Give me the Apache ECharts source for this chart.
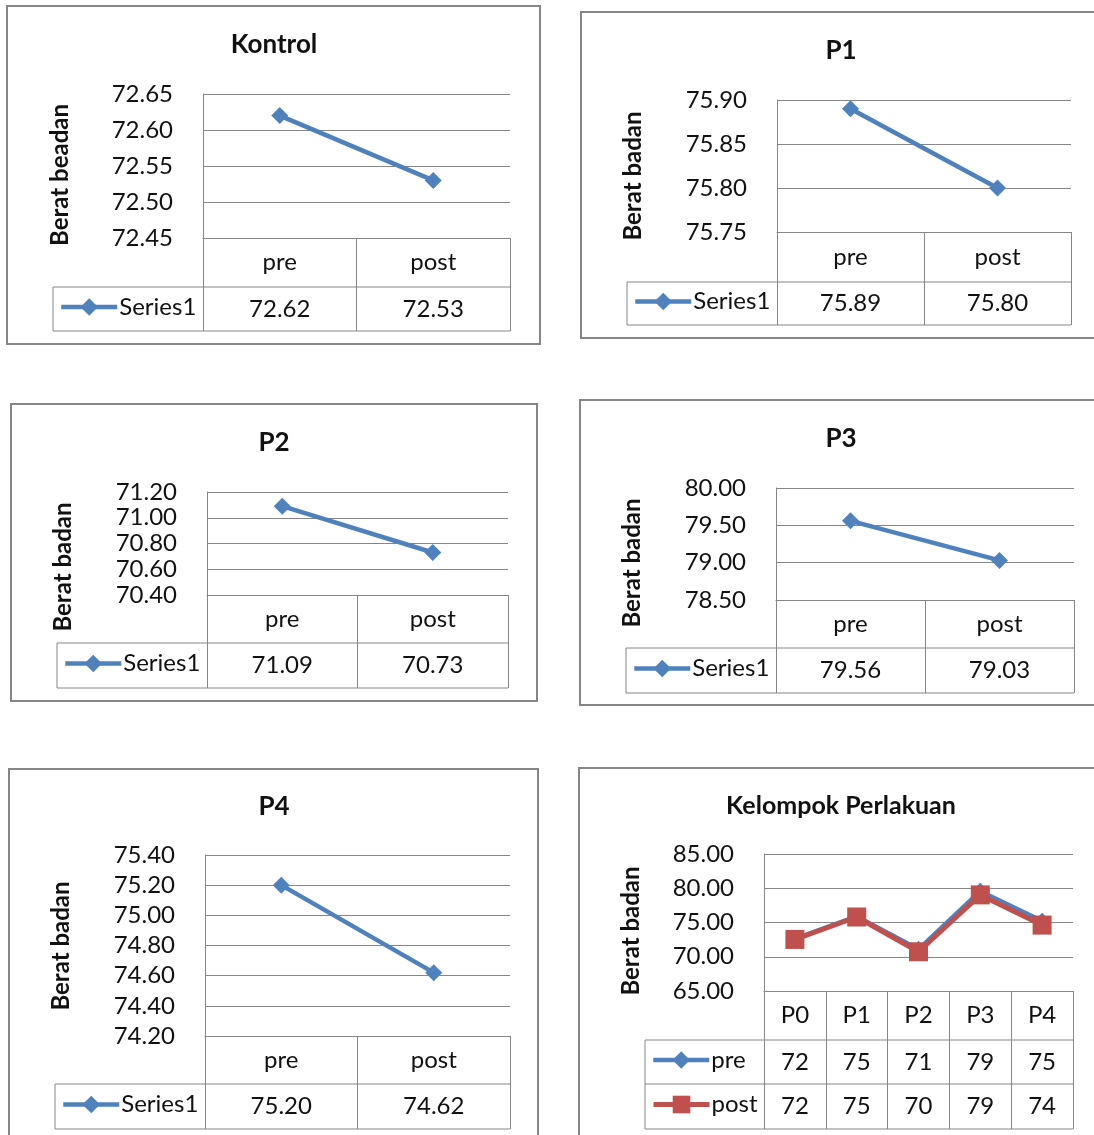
<!DOCTYPE html>
<html>
<head>
<meta charset="utf-8">
<script src="https://cdn.jsdelivr.net/npm/echarts@6/dist/echarts.min.js"></script>
<style>
  html, body { margin: 0; padding: 0; background: #ffffff; }
  #chart { width: 1094px; height: 1135px; }
</style>
</head>
<body>
<div id="chart"></div>
<script>
// ---- Data ----
const prePost = ['pre', 'post'];
const kontrolValues = [72.62, 72.53];
const p1Values = [75.89, 75.80];
const p2Values = [71.09, 70.73];
const p3Values = [79.56, 79.03];
const p4Values = [75.20, 74.62];

const groupNames = ['P0', 'P1', 'P2', 'P3', 'P4'];
const groupPre = [72.62, 75.89, 71.09, 79.56, 75.20];
const groupPost = [72.53, 75.80, 70.73, 79.03, 74.62];

// Value axis ranges: [min, max, interval]
const kontrolScale = [72.45, 72.65, 0.05];
const p1Scale = [75.75, 75.90, 0.05];
const p2Scale = [70.40, 71.20, 0.20];
const p3Scale = [78.50, 80.00, 0.50];
const p4Scale = [74.20, 75.40, 0.20];
const groupScale = [65, 85, 5];

// ---- Styling ----
const FONT = 'Lato, "Open Sans", sans-serif';
const GRID_COLOR = '#868686';
const TEXT_COLOR = '#111111';
const BLUE = '#4F81BD';
const RED = '#C0504D';
const TICK_SIZE = 24;
const TABLE_SIZE = 24;

const fixed2 = v => Number(v).toFixed(2);
const whole = v => String(Math.floor(v));

const blueLine = { symbol: 'diamond', symbolSize: 17, color: BLUE, width: 4.5 };
const redLine = { symbol: 'rect', symbolSize: 19, color: RED, width: 5 };

// Panel layout: box [x, y, w, h], plot [left, top, width, height],
// table rows [header, data rows...], key column left edge, title/axis-title anchors
const panels = [
  { title: 'Kontrol', axisTitle: 'Berat beadan', cats: prePost, scale: kontrolScale, tickFmt: fixed2, cellFmt: fixed2,
    series: [{ name: 'Series1', values: kontrolValues, look: blueLine }],
    box: [7, 6, 533, 338], plot: [203, 94, 307, 144], rows: [49, 44], keyLeft: 53,
    titleAt: [274, 45], titleSize: 26, axisTitleAt: [60, 175] },
  { title: 'P1', axisTitle: 'Berat badan', cats: prePost, scale: p1Scale, tickFmt: fixed2, cellFmt: fixed2,
    series: [{ name: 'Series1', values: p1Values, look: blueLine }],
    box: [581, 12, 600, 326], plot: [777, 100, 294, 132], rows: [50, 43], keyLeft: 627,
    titleAt: [841, 51], titleSize: 26, axisTitleAt: [633, 176] },
  { title: 'P2', axisTitle: 'Berat badan', cats: prePost, scale: p2Scale, tickFmt: fixed2, cellFmt: fixed2,
    series: [{ name: 'Series1', values: p2Values, look: blueLine }],
    box: [11, 404, 526, 297], plot: [207, 492, 301, 103], rows: [48, 45], keyLeft: 57,
    titleAt: [274, 443], titleSize: 26, axisTitleAt: [63, 567] },
  { title: 'P3', axisTitle: 'Berat badan', cats: prePost, scale: p3Scale, tickFmt: fixed2, cellFmt: fixed2,
    series: [{ name: 'Series1', values: p3Values, look: blueLine }],
    box: [580, 400, 600, 305], plot: [776, 488, 298, 112], rows: [48, 45], keyLeft: 626,
    titleAt: [841, 439], titleSize: 26, axisTitleAt: [632, 563] },
  { title: 'P4', axisTitle: 'Berat badan', cats: prePost, scale: p4Scale, tickFmt: fixed2, cellFmt: fixed2,
    series: [{ name: 'Series1', values: p4Values, look: blueLine }],
    box: [9, 769, 529, 400], plot: [205, 855, 305, 181], rows: [48, 45], keyLeft: 55,
    titleAt: [274, 807], titleSize: 26, axisTitleAt: [61, 946] },
  { title: 'Kelompok Perlakuan', axisTitle: 'Berat badan', cats: groupNames, scale: groupScale, tickFmt: fixed2, cellFmt: whole,
    series: [{ name: 'pre', values: groupPre, look: blueLine }, { name: 'post', values: groupPost, look: redLine }],
    box: [579, 768, 600, 400], plot: [764, 854, 309, 137], rows: [49, 44, 45], keyLeft: 645,
    titleAt: [841, 806], titleSize: 25, axisTitleAt: [631, 931] }
];

const grid = [], xAxis = [], yAxis = [], series = [], legend = [], graphic = [];

panels.forEach((p, i) => {
  const [pl, pt, pw, ph] = p.plot;
  const plotBottom = pt + ph;
  const tableHeight = p.rows.reduce((a, b) => a + b, 0);
  const headerH = p.rows[0];

  grid.push({ left: pl, top: pt, width: pw, height: ph, containLabel: false });

  // Category axis: header row of the data table, ticks form the cell dividers
  const mainX = xAxis.length;
  xAxis.push({
    gridIndex: i, type: 'category', data: p.cats, boundaryGap: true,
    axisLine: { show: true, lineStyle: { color: GRID_COLOR, width: 1 } },
    axisTick: { show: true, length: tableHeight, lineStyle: { color: GRID_COLOR, width: 1 } },
    axisLabel: { interval: 0, margin: headerH / 2, verticalAlign: 'middle', fontSize: TABLE_SIZE, fontFamily: FONT, color: TEXT_COLOR }
  });

  yAxis.push({
    gridIndex: i, type: 'value', min: p.scale[0], max: p.scale[1], interval: p.scale[2],
    axisLine: { show: true, lineStyle: { color: GRID_COLOR, width: 1 } },
    axisTick: { show: false },
    splitLine: { show: true, lineStyle: { color: GRID_COLOR, width: 1 } },
    axisLabel: { margin: 30, fontSize: TICK_SIZE, fontFamily: FONT, color: TEXT_COLOR, formatter: p.tickFmt }
  });

  // One value row of the table per series
  let offset = headerH;
  p.series.forEach((s, r) => {
    const rowH = p.rows[r + 1];
    xAxis.push({
      gridIndex: i, type: 'category', data: p.cats, boundaryGap: true, position: 'bottom', offset: offset,
      axisLine: { show: false }, axisTick: { show: false }, splitLine: { show: false },
      axisLabel: { interval: 0, margin: rowH / 2, verticalAlign: 'middle', fontSize: TABLE_SIZE, fontFamily: FONT, color: TEXT_COLOR,
        formatter: (v, idx) => p.cellFmt(s.values[idx]) }
    });

    // Legend key in the row's first cell
    legend.push({
      data: [s.name], selectedMode: false, padding: 0, orient: 'horizontal',
      left: p.keyLeft + 6, top: plotBottom + offset + rowH / 2 - 11 - 3,
      itemWidth: 56, itemHeight: 22, itemGap: 0,
      lineStyle: { width: 'inherit' },
      textStyle: { fontSize: TABLE_SIZE, fontFamily: FONT, color: TEXT_COLOR, padding: [0, 0, 0, -3] }
    });

    series.push({
      name: s.name, type: 'line', xAxisIndex: mainX, yAxisIndex: i,
      data: s.values, symbol: s.look.symbol, symbolSize: s.look.symbolSize,
      lineStyle: { color: s.look.color, width: s.look.width },
      itemStyle: { color: s.look.color },
      z: 3 + r
    });

    offset += rowH;
    // row bottom border
    graphic.push({ type: 'line', shape: { x1: p.keyLeft, y1: plotBottom + offset, x2: pl + pw, y2: plotBottom + offset },
      style: { stroke: GRID_COLOR, lineWidth: 1 }, silent: true });
  });

  // top border of the value rows and left border of the key column
  graphic.push({ type: 'line', shape: { x1: p.keyLeft, y1: plotBottom + headerH, x2: pl + pw, y2: plotBottom + headerH },
    style: { stroke: GRID_COLOR, lineWidth: 1 }, silent: true });
  graphic.push({ type: 'line', shape: { x1: p.keyLeft, y1: plotBottom + headerH, x2: p.keyLeft, y2: plotBottom + tableHeight },
    style: { stroke: GRID_COLOR, lineWidth: 1 }, silent: true });

  // chart frame
  graphic.push({ type: 'rect', shape: { x: p.box[0], y: p.box[1], width: p.box[2], height: p.box[3] },
    style: { fill: 'none', stroke: GRID_COLOR, lineWidth: 2 }, silent: true });

  // chart title
  graphic.push({ type: 'text', x: p.titleAt[0], y: p.titleAt[1],
    style: { text: p.title, font: 'bold ' + p.titleSize + 'px ' + FONT, fill: TEXT_COLOR, align: 'center', verticalAlign: 'middle' }, silent: true });

  // vertical axis title
  graphic.push({ type: 'text', x: p.axisTitleAt[0], y: p.axisTitleAt[1], rotation: Math.PI / 2,
    style: { text: p.axisTitle, font: 'bold 24px ' + FONT, fill: TEXT_COLOR, align: 'center', verticalAlign: 'middle' }, silent: true });
});

const chart = echarts.init(document.getElementById('chart'), null, { renderer: 'canvas' });
chart.setOption({
  backgroundColor: '#ffffff',
  animation: false,
  grid, xAxis, yAxis, series, legend, graphic
});
</script>
</body>
</html>
